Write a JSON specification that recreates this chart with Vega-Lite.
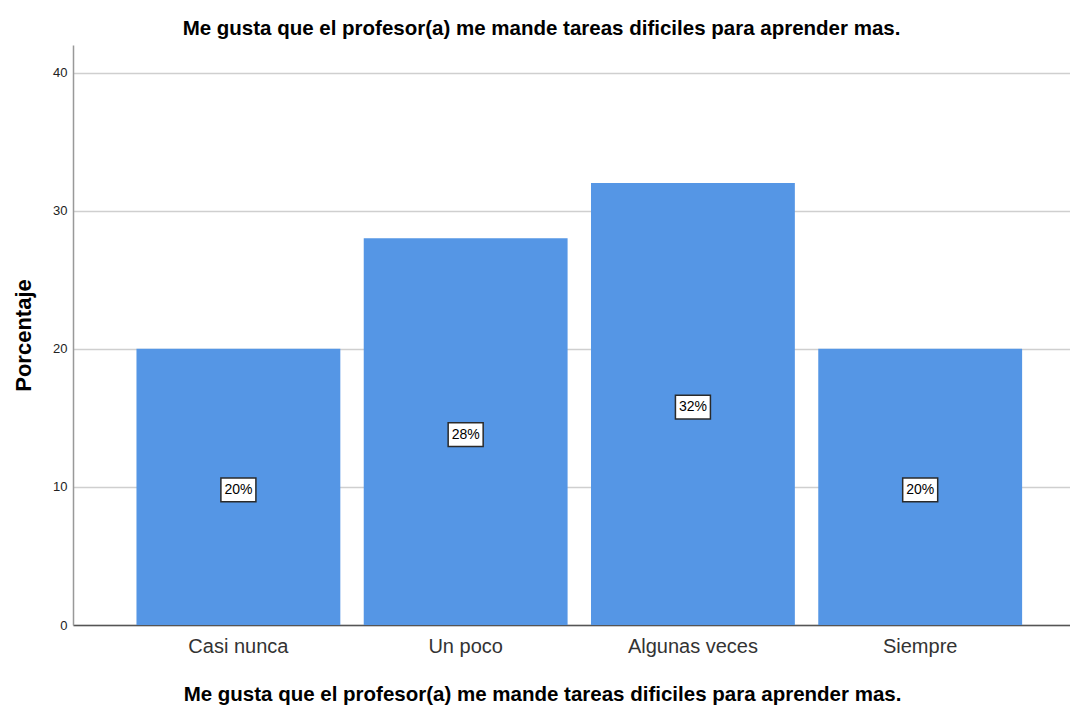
{
  "$schema": "https://vega.github.io/schema/vega-lite/v6.json",
  "autosize": "none",
  "width": 997,
  "height": 580,
  "padding": {"left": 73, "top": 45, "right": 0, "bottom": 80},
  "background": "white",
  "config": {
    "view": {"stroke": null},
    "font": "Liberation Sans"
  },
  "title": {
    "text": "Me gusta que el profesor(a) me mande tareas dificiles para aprender mas.",
    "fontSize": 20.5,
    "fontWeight": "bold",
    "color": "#000000",
    "font": "Liberation Sans",
    "anchor": "middle",
    "dx": -30,
    "offset": 6
  },
  "data": {
    "values": [
      {"cat": "Casi nunca", "pct": 20, "label": "20%"},
      {"cat": "Un poco", "pct": 28, "label": "28%"},
      {"cat": "Algunas veces", "pct": 32, "label": "32%"},
      {"cat": "Siempre", "pct": 20, "label": "20%"}
    ]
  },
  "encoding": {
    "x": {
      "field": "cat",
      "type": "nominal",
      "sort": null,
      "scale": {"paddingInner": 0.103, "paddingOuter": 0.245, "align": 0.57},
      "axis": {
        "title": "Me gusta que el profesor(a) me mande tareas dificiles para aprender mas.",
        "titleFontSize": 20.5,
        "titleFontWeight": "bold",
        "titleColor": "#000000",
        "titleX": 469,
        "titleY": 75,
        "titleAlign": "center",
        "titleBaseline": "alphabetic",
        "labelAngle": 0,
        "labelFontSize": 20,
        "labelColor": "#333333",
        "labelPadding": 11,
        "ticks": false,
        "domainColor": "#555555",
        "domainWidth": 1.5,
        "grid": false
      }
    }
  },
  "layer": [
    {
      "mark": {"type": "bar", "color": "#5596e5"},
      "encoding": {
        "y": {
          "field": "pct",
          "type": "quantitative",
          "scale": {"domain": [0, 42], "nice": false},
          "axis": {
            "title": "Porcentaje",
            "titleFontSize": 22,
            "titleFontWeight": "bold",
            "titleColor": "#000000",
            "titleX": -50,
            "titleY": 290,
            "titleAngle": -90,
            "titleAlign": "center",
            "titleBaseline": "middle",
            "values": [0, 10, 20, 30, 40],
            "labelFontSize": 13,
            "labelColor": "#222222",
            "labelPadding": 6,
            "ticks": false,
            "domainColor": "#999999",
            "domainWidth": 1.5,
            "gridColor": "#cfcfcf",
            "gridWidth": 1.5
          }
        }
      }
    },
    {
      "mark": {
        "type": "point",
        "shape": "M-1,-0.68H1V0.68H-1Z",
        "size": 1225,
        "filled": true,
        "fill": "white",
        "stroke": "#2a2a2a",
        "strokeWidth": 1.5,
        "opacity": 1,
        "yOffset": 3
      },
      "encoding": {
        "y": {
          "field": "pct",
          "type": "quantitative",
          "scale": {"domain": [0, 84], "nice": false},
          "axis": null
        }
      }
    },
    {
      "mark": {"type": "text", "fontSize": 14, "color": "#000000", "baseline": "middle", "yOffset": 3},
      "encoding": {
        "y": {
          "field": "pct",
          "type": "quantitative",
          "scale": {"domain": [0, 84], "nice": false},
          "axis": null
        },
        "text": {"field": "label"}
      }
    }
  ],
  "resolve": {"scale": {"y": "independent"}}
}
